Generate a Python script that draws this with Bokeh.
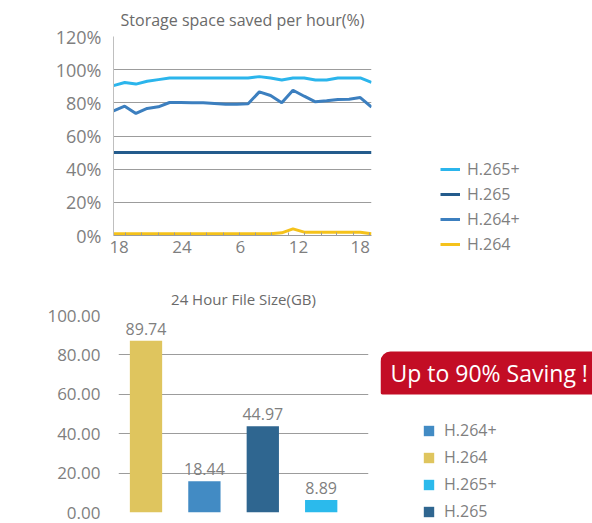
from bokeh.plotting import figure
from bokeh.layouts import column, row
from bokeh.models import (Range1d, FixedTicker, Legend, LegendItem, Label,
                          LabelSet, ColumnDataSource)
from bokeh.core.properties import value
from bokeh.embed import file_html
from bokeh.resources import INLINE

FONT = "Open Sans"
GRAY = "#7F7F7F"
GRID = "#9C9C9C"

# ---------------- top chart data: storage space saved per hour (%) ----------------
hour_index = list(range(24))
h265_plus = [90.4, 92.3, 91.3, 93.0, 94.0, 95.0, 95.0, 95.0, 95.0, 95.0, 95.0, 95.0,
             95.0, 95.8, 95.0, 93.8, 95.0, 95.0, 93.8, 93.8, 95.0, 95.0, 95.0, 92.3]
h265 = [50.0, 50.0, 50.0, 50.0, 50.0, 50.0, 50.0, 50.0, 50.0, 50.0, 50.0, 50.0,
        50.0, 50.0, 50.0, 50.0, 50.0, 50.0, 50.0, 50.0, 50.0, 50.0, 50.0, 50.0]
h264_plus = [75.2, 78.0, 73.6, 76.6, 77.6, 80.2, 80.2, 80.0, 80.0, 79.6, 79.2, 79.2,
             79.4, 86.6, 84.4, 80.0, 87.6, 84.0, 80.6, 81.2, 82.0, 82.2, 83.2, 77.5]
h264 = [1.0, 1.0, 1.0, 1.0, 1.0, 1.0, 1.0, 1.0, 1.0, 1.0, 1.0, 1.0,
        1.0, 1.0, 1.0, 1.6, 4.0, 2.0, 2.0, 2.0, 2.0, 2.0, 2.0, 1.0]
x_tick_pos = [0.5, 6.1, 11.3, 16.5, 22.0]
x_tick_labels = ["18", "24", "6", "12", "18"]
x_minor_pos = [1.1, 2.5, 4.0, 5.4, 6.9, 8.3, 9.8, 11.2, 12.7, 14.1, 15.6, 17.0,
               18.5, 19.9, 21.4, 22.8]
y1_ticks = [0, 20, 40, 60, 80, 100, 120]
y1_labels = ["0%", "20%", "40%", "60%", "80%", "100%", "120%"]
line_names = ["H.265+", "H.265", "H.264+", "H.264"]
line_colors = ["#2BB5EC", "#235B8C", "#3C7FBF", "#F5C21B"]

# ---------------- bottom chart data: 24 hour file size (GB) ----------------
codecs = ["H.264", "H.264+", "H.265", "H.265+"]
file_size = [87.2, 15.8, 43.8, 6.3]
size_labels = ["89.74", "18.44", "44.97", "8.89"]
bar_colors = ["#DFC55E", "#428BC4", "#2F6690", "#2BBAEC"]
legend_order = ["H.264+", "H.264", "H.265+", "H.265"]
y2_ticks = [0, 20, 40, 60, 80, 100]
y2_labels = ["0.00", "20.00", "40.00", "60.00", "80.00", "100.00"]


def style_title(p, text, size, offset, standoff):
    p.title.text = text
    p.title.align = "center"
    p.title.offset = offset
    p.title.text_font = FONT
    p.title.text_font_size = size
    p.title.text_font_style = "normal"
    p.title.text_color = "#6A6A6A"
    p.title.standoff = standoff


def side_panel(width, height):
    # a plain canvas (no axes / grid) that hosts a legend or banner
    f = figure(width=width, height=height, x_range=Range1d(-2, -1), y_range=Range1d(-2, -1),
               toolbar_location=None, output_backend="svg", min_border=0,
               x_axis_location=None, y_axis_location=None)
    f.grid.visible = False
    f.outline_line_color = None
    return f


# ================= top figure =================
p1 = figure(width=380, height=280, x_range=Range1d(0, 23), y_range=Range1d(0, 120),
            toolbar_location=None, output_backend="svg",
            min_border_left=113, min_border_right=9, min_border_top=36,
            min_border_bottom=45)
p1.outline_line_color = None
p1.xgrid.grid_line_color = None
p1.ygrid.grid_line_color = GRID
p1.ygrid.grid_line_width = 1
style_title(p1, "Storage space saved per hour(%)", "16px", 3, 12)

ya = p1.yaxis[0]
ya.ticker = FixedTicker(ticks=y1_ticks)
ya.major_label_overrides = {t: l for t, l in zip(y1_ticks, y1_labels)}
ya.axis_line_color = "#BFBFBF"
ya.major_tick_line_color = None
ya.minor_tick_line_color = None
ya.major_tick_out = 0
ya.major_tick_in = 0
ya.major_label_standoff = 12
ya.major_label_text_font = FONT
ya.major_label_text_font_size = "18px"
ya.major_label_text_color = GRAY

xa = p1.xaxis[0]
xa.ticker = FixedTicker(ticks=x_tick_pos, minor_ticks=x_minor_pos)
xa.major_label_overrides = {t: l for t, l in zip(x_tick_pos, x_tick_labels)}
xa.axis_line_color = GRID
xa.major_tick_line_color = None
xa.major_tick_out = 0
xa.major_tick_in = 0
xa.minor_tick_line_color = GRID
xa.minor_tick_in = 3
xa.minor_tick_out = 0
xa.major_label_standoff = 5
xa.major_label_text_font = FONT
xa.major_label_text_font_size = "17px"
xa.major_label_text_color = GRAY

src1 = ColumnDataSource(dict(x=hour_index, h265p=h265_plus, h265=h265,
                             h264p=h264_plus, h264=h264))
cols1 = ["h265p", "h265", "h264p", "h264"]
for col, color in zip(cols1, line_colors):
    p1.line("x", col, source=src1, line_color=color, line_width=3)

# legend canvas for the top chart (same data, outside its visible range)
r1 = side_panel(212, 280)
leg1_items = []
for name, col, color in zip(line_names, cols1, line_colors):
    rr = r1.line("x", col, source=src1, line_color=color, line_width=3)
    leg1_items.append(LegendItem(label=name, renderers=[rr]))
leg1 = Legend(items=leg1_items, location=(60, 25), glyph_width=20, glyph_height=20,
              label_height=20, spacing=3, padding=0, margin=0, label_standoff=7,
              label_text_font=FONT, label_text_font_size="16px",
              label_text_color=GRAY, border_line_color=None,
              background_fill_alpha=0)
r1.add_layout(leg1)

# ================= bottom figure =================
p2 = figure(width=380, height=243, x_range=Range1d(-0.471, 3.81), y_range=Range1d(0, 100),
            toolbar_location=None, output_backend="svg",
            min_border_left=118, min_border_right=12, min_border_top=34,
            min_border_bottom=11)
p2.outline_line_color = None
p2.xgrid.grid_line_color = None
p2.ygrid.grid_line_color = GRID
p2.xaxis.visible = False
style_title(p2, "24 Hour File Size(GB)", "15px", 4, 13)

yb = p2.yaxis[0]
yb.ticker = FixedTicker(ticks=y2_ticks)
yb.major_label_overrides = {t: l for t, l in zip(y2_ticks, y2_labels)}
yb.axis_line_color = None
yb.major_tick_line_color = None
yb.minor_tick_line_color = None
yb.major_tick_out = 0
yb.major_tick_in = 0
yb.major_label_standoff = 18
yb.major_label_text_font = FONT
yb.major_label_text_font_size = "17px"
yb.major_label_text_color = GRAY

src2 = ColumnDataSource(dict(x=list(range(len(codecs))), size=file_size,
                             label=size_labels, color=bar_colors, codec=codecs))
p2.vbar(x="x", top="size", bottom=0, width=0.553, fill_color="color",
        line_color=None, source=src2)
p2.add_layout(LabelSet(x="x", y="size", text="label", source=src2,
                       text_align="center", text_baseline="alphabetic", y_offset=6,
                       text_font=value(FONT), text_font_size=value("16px"),
                       text_color=GRAY))

# legend + banner canvas for the bottom chart
r2 = side_panel(212, 243)
bars_leg = r2.vbar(x="x", top="size", bottom=0, width=0.553, fill_color="color",
                   line_color=None, source=src2)
leg2 = Legend(items=[LegendItem(label=n, renderers=[bars_leg], index=codecs.index(n))
                     for n in legend_order],
              location=(42, 1), glyph_width=13, glyph_height=13,
              label_height=20, spacing=5, padding=0, margin=0, label_standoff=9,
              label_text_font=FONT, label_text_font_size="16px",
              label_text_color=GRAY, border_line_color=None,
              background_fill_alpha=0)
r2.add_layout(leg2)

r2.add_layout(Label(x=0, y=129, x_units="screen", y_units="screen",
                    text="Up to 90% Saving !", text_align="left",
                    text_baseline="bottom", text_font=FONT,
                    text_font_size="23px", text_color="white",
                    background_fill_color="#C30D25",
                    padding=dict(left=10, right=12, top=5, bottom=6),
                    border_radius=dict(top_left=10, top_right=0,
                                       bottom_right=0, bottom_left=2)))

layout = row(column(row(p1), row(p2)), column(r1, r2))
open("out.html", "w").write(file_html(layout, INLINE))
